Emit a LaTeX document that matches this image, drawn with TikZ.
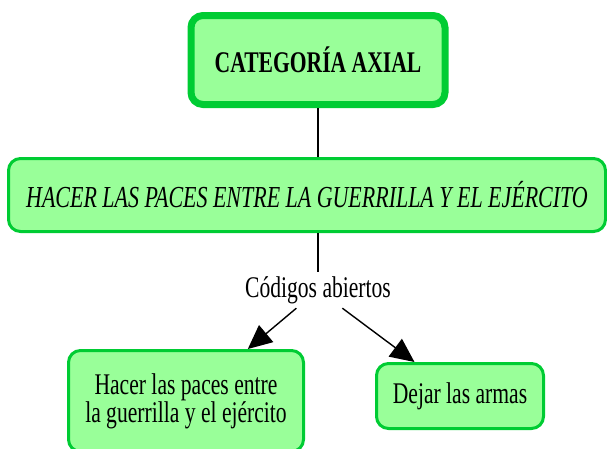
\documentclass[tikz,border=0pt]{standalone}
\usepackage{fontspec}
\setmainfont{Liberation Serif}[FakeStretch=0.72]
\usetikzlibrary{arrows.meta}
\definecolor{boxfill}{RGB}{153,255,153}
\definecolor{boxline}{RGB}{0,204,51}
\tikzset{
    concept/.style={draw=boxline, fill=boxfill, line width=3pt, rounded corners=12pt, align=center, inner sep=0pt},
    link/.style={-{Triangle[length=24pt,width=22pt]}, line width=1.4pt}
}
\begin{document}
\begin{tikzpicture}[x=1pt, y=-1pt]
    \useasboundingbox (0,0) rectangle (607,448);

    % Boxes
    \node[concept, line width=7pt, minimum width=254pt, minimum height=89pt,
          font=\fontsize{30}{32}\selectfont\bfseries] (axial) at (318,60) {CATEGORÍA AXIAL};
    \node[concept, minimum width=597pt, minimum height=73pt,
          font=\fontsize{30.5}{32}\selectfont\itshape] (paces) at (307,195)
          {HACER LAS PACES ENTRE LA GUERRILLA Y EL EJÉRCITO};
    \node[minimum height=36pt, inner sep=0pt, font=\fontsize{30}{28}\selectfont] (codigos) at (318,290) {Códigos abiertos};
    \node[concept, minimum width=235pt, minimum height=101pt,
          font=\fontsize{30}{28}\selectfont] (guerrilla) at (186,401)
          {Hacer las paces entre\\la guerrilla y el ejército};
    \node[concept, minimum width=167pt, minimum height=65pt,
          font=\fontsize{30}{28}\selectfont] (armas) at (460,396) {Dejar las armas};

    % Connectors
    \draw[line width=1.4pt] (axial) -- (axial |- paces.north);
    \draw[line width=1.4pt] (codigos |- paces.south) -- (codigos);
    \draw[link] (codigos) -- (guerrilla);
    \draw[link] (codigos) -- (armas);
\end{tikzpicture}
\end{document}
